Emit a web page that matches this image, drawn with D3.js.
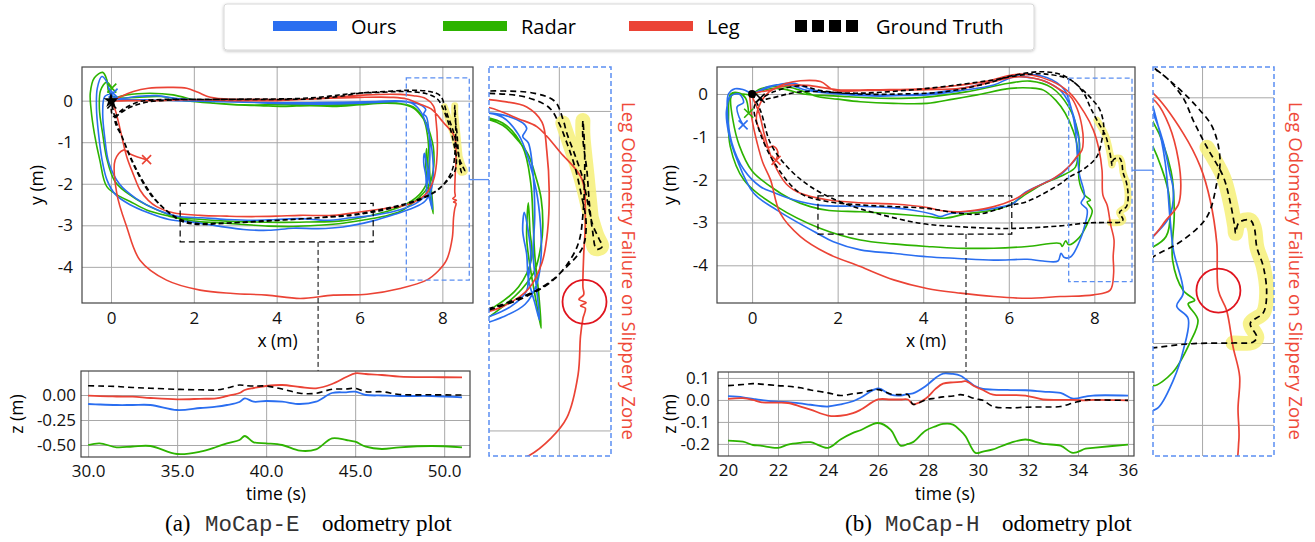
<!DOCTYPE html>
<html>
<head>
<meta charset="utf-8">
<script src="https://cdn.jsdelivr.net/npm/d3@7"></script>
<style>
  body { margin: 0; background: #fff; }
  svg { display: block; font-family: "Open Sans", sans-serif; }
  .grid line { stroke: #a8a8a8; stroke-width: 1; }
  .grid path { display: none; }
  .tick text { font-size: 17px; fill: #111; font-family: "Open Sans", sans-serif; }
</style>
</head>
<body>
<svg width="1315" height="542"></svg>
<script>
// ---------- data: MoCap-E (left) ----------
var gtE = [[0,0],[0.05,-0.38],[0.3,-0.2],[0.7,-0.02],[1.3,0.03],[2.2,0.03],[3.2,0.03],[4.2,0.03],[5.0,0.05],[5.5,0.1],[6.0,0.18],[6.6,0.22],[7.2,0.25],[7.7,0.22],[7.95,0.12],[8.05,-0.1],[8.1,-0.28],[8.2,-0.55],[8.3,-0.85],[8.36,-1.15],[8.42,-1.42],[8.5,-1.6],[8.54,-1.7],[8.47,-1.73],[8.42,-1.5],[8.38,-1.15],[8.35,-0.75],[8.3,-0.35],[8.3,-0.12],[8.32,-0.45],[8.32,-0.9],[8.3,-1.3],[8.26,-1.6],[8.18,-1.8],[7.95,-2.1],[7.6,-2.32],[7.1,-2.5],[6.5,-2.65],[5.8,-2.76],[5.0,-2.82],[4.2,-2.87],[3.4,-2.92],[2.6,-2.95],[2.0,-2.95],[1.6,-2.82],[1.25,-2.57],[0.95,-2.25],[0.7,-1.85],[0.48,-1.4],[0.28,-0.9],[0.1,-0.45],[0.35,-0.22],[0.8,-0.05],[1.5,0.02],[2.5,0.03],[3.5,0.04],[4.5,0.05],[5.2,0.1],[5.8,0.17],[6.5,0.2],[7.1,0.22],[7.6,0.17],[7.88,0.04],[8.0,-0.15],[8.1,-0.4],[8.2,-0.7],[8.28,-1.05],[8.34,-1.4],[8.3,-1.7],[8.1,-1.95],[7.8,-2.2],[7.3,-2.42],[6.7,-2.58],[6.0,-2.72],[5.2,-2.8],[4.4,-2.86],[3.6,-2.9],[2.8,-2.95],[2.2,-2.98],[1.75,-2.92],[1.4,-2.7],[1.05,-2.35],[0.75,-1.9],[0.5,-1.42],[0.3,-0.95],[0.12,-0.5],[0.02,-0.08]];
var oursE = [[0,0],[0.3,0.02],[0.9,0.02],[1.6,0.0],[2.4,-0.02],[3.2,-0.04],[4.0,-0.05],[4.8,-0.05],[5.6,-0.04],[6.4,-0.02],[7.0,-0.01],[7.3,-0.08],[7.5,-0.3],[7.62,-0.6],[7.72,-1.0],[7.77,-1.4],[7.78,-1.8],[7.73,-2.15],[7.58,-2.42],[7.3,-2.58],[6.9,-2.72],[6.3,-2.9],[5.6,-3.04],[5.0,-3.08],[4.4,-3.07],[3.8,-3.12],[3.2,-3.1],[2.6,-3.02],[2.0,-2.93],[1.4,-2.86],[0.9,-2.7],[0.45,-2.5],[0.1,-2.25],[-0.1,-1.9],[-0.22,-1.4],[-0.3,-0.8],[-0.35,-0.2],[-0.33,0.3],[-0.22,0.58],[-0.1,0.45],[0.0,0.15],[0.15,0.05],[0.6,0.1],[1.1,0.12],[1.6,0.05],[2.3,0.0],[3.0,-0.02],[3.8,-0.06],[4.6,-0.08],[5.4,-0.08],[6.2,-0.05],[6.9,-0.02],[7.3,-0.05],[7.55,-0.15],[7.6,-0.22],[7.55,-0.32],[7.62,-0.4],[7.68,-0.8],[7.7,-1.3],[7.68,-1.8],[7.72,-2.2],[7.76,-2.62],[7.7,-2.4],[7.62,-2.1],[7.6,-1.8],[7.55,-1.5],[7.57,-1.27],[7.61,-1.45],[7.65,-1.8],[7.62,-2.1],[7.6,-2.25],[7.4,-2.45],[7.0,-2.62],[6.4,-2.75],[5.8,-2.82],[5.2,-2.88],[4.6,-2.84],[4.0,-2.86],[3.4,-2.88],[2.8,-2.86],[2.2,-2.82],[1.6,-2.78],[1.1,-2.62],[0.6,-2.35],[0.2,-2.0],[-0.05,-1.5],[-0.15,-0.9],[-0.2,-0.3],[-0.15,0.1],[0.05,0.18]];
var radarE = [[0,0],[0.1,0.06],[0.38,0.14],[0.94,0.18],[1.5,0.14],[2.15,-0.02],[2.95,-0.1],[3.6,-0.12],[4.16,-0.14],[4.8,-0.12],[5.37,-0.14],[6.0,-0.1],[6.58,-0.06],[7.0,-0.08],[7.3,-0.18],[7.5,-0.38],[7.62,-0.55],[7.72,-0.85],[7.78,-1.1],[7.8,-1.45],[7.78,-1.67],[7.7,-2.0],[7.54,-2.23],[7.3,-2.45],[6.98,-2.67],[6.6,-2.78],[6.18,-2.86],[5.6,-2.95],[5.0,-3.0],[4.4,-3.03],[3.8,-3.02],[3.2,-2.98],[2.6,-2.94],[2.0,-2.9],[1.4,-2.78],[0.86,-2.63],[0.45,-2.42],[0.22,-2.31],[-0.1,-2.07],[-0.27,-1.43],[-0.4,-0.8],[-0.48,-0.22],[-0.5,0.18],[-0.4,0.55],[-0.2,0.68],[-0.1,0.5],[-0.05,0.2],[0.1,0.08],[0.6,0.08],[1.2,0.1],[1.8,0.0],[2.5,-0.06],[3.2,-0.1],[4.0,-0.1],[4.8,-0.1],[5.5,-0.1],[6.2,-0.05],[6.9,-0.06],[7.3,-0.15],[7.55,-0.45],[7.65,-0.9],[7.68,-1.4],[7.7,-1.8],[7.75,-2.3],[7.78,-2.72],[7.72,-2.4],[7.65,-2.0],[7.6,-1.6],[7.62,-1.15],[7.64,-1.5],[7.66,-1.85],[7.5,-2.2],[7.2,-2.45],[6.8,-2.62],[6.2,-2.78],[5.5,-2.9],[4.8,-2.92],[4.2,-2.93],[3.5,-2.92],[2.8,-2.9],[2.2,-2.86],[1.6,-2.8],[1.0,-2.58],[0.5,-2.3],[0.1,-1.95],[-0.1,-1.4],[-0.2,-0.8],[-0.28,-0.2],[-0.25,0.25],[-0.1,0.45],[0.02,0.3]];
var legE = [[0,0],[0.1,-0.22],[0.2,-0.6],[0.38,-1.35],[0.55,-1.8],[0.7,-2.15],[0.9,-2.4],[1.1,-2.55],[1.5,-2.7],[2.15,-2.76],[2.8,-2.78],[3.4,-2.79],[4.0,-2.78],[4.57,-2.76],[5.37,-2.76],[6.0,-2.68],[6.58,-2.6],[7.0,-2.54],[7.3,-2.45],[7.62,-2.23],[7.79,-1.9],[7.86,-1.5],[7.88,-1.0],[7.85,-0.5],[7.79,-0.14],[7.6,0.05],[7.3,0.12],[6.98,0.15],[6.18,0.14],[5.37,0.08],[4.57,0.03],[3.5,0.03],[2.95,0.03],[2.4,0.08],[2.1,0.2],[1.83,0.3],[1.43,0.32],[0.9,0.3],[0.54,0.22],[0.2,0.08],[0.05,0.0],[0.4,0.0],[1.0,0.0],[2.0,0.02],[3.0,0.0],[4.0,0.0],[5.0,0.05],[6.0,0.08],[6.8,0.08],[7.14,0.04],[7.5,-0.1],[7.73,-0.2],[8.02,-0.52],[8.29,-0.86],[8.33,-1.36],[8.31,-1.8],[8.3,-2.2],[8.31,-2.3],[8.25,-2.36],[8.34,-2.4],[8.27,-2.44],[8.33,-2.47],[8.3,-2.6],[8.27,-2.82],[8.24,-3.3],[8.1,-3.84],[7.9,-4.1],[7.62,-4.32],[6.98,-4.52],[6.18,-4.66],[5.37,-4.68],[4.57,-4.76],[3.76,-4.68],[2.95,-4.64],[2.15,-4.56],[1.34,-4.32],[0.7,-3.84],[0.38,-3.04],[0.14,-2.23],[0.1,-1.43],[0.3,-1.19],[0.5,-1.3],[0.86,-1.42]];
var slipE = [[8.05,-0.15],[8.15,-0.45],[8.28,-0.85],[8.38,-1.25],[8.47,-1.55],[8.53,-1.7],[8.45,-1.72],[8.4,-1.3],[8.35,-0.8],[8.3,-0.3],[8.3,-0.12]];

var tE = [30.0,30.65,31.6,32.5,33.5,35.0,36.3,37.2,37.8,38.5,38.8,39.3,40.0,40.9,41.9,42.8,43.7,44.5,45.0,45.6,46.5,47.5,49.3,51.0];
var zGtE    = [0.093,0.09,0.085,0.075,0.068,0.057,0.052,0.05,0.07,0.1,0.095,0.09,0.09,0.06,0.017,0.017,0.057,0.06,0.067,0.033,0.033,0.005,0.002,0.0];
var zOursE  = [-0.09,-0.095,-0.1,-0.1,-0.1,-0.15,-0.13,-0.117,-0.1,-0.07,-0.033,-0.067,-0.06,-0.067,-0.09,-0.067,0.02,0.027,0.033,0.0,-0.005,-0.01,-0.01,-0.023];
var zRadarE = [-0.5,-0.483,-0.523,-0.515,-0.51,-0.59,-0.567,-0.52,-0.483,-0.45,-0.41,-0.473,-0.483,-0.5,-0.557,-0.543,-0.433,-0.45,-0.467,-0.517,-0.54,-0.523,-0.51,-0.523];
var zLegE   = [-0.007,-0.012,-0.015,-0.017,-0.03,-0.043,-0.038,-0.033,-0.01,0.02,0.05,0.07,0.09,0.1,0.08,0.067,0.11,0.18,0.217,0.21,0.2,0.183,0.178,0.177];

// ---------- data: MoCap-H (right) ----------
var gtH = [[0,0],[0.2,-0.4],[0.43,-1.15],[0.82,-1.7],[1.36,-2.16],[2.14,-2.55],[2.92,-2.79],[3.93,-3.02],[4.87,-3.1],[6.04,-3.14],[7.2,-3.08],[7.85,-3.01],[8.38,-3.0],[8.62,-2.99],[8.67,-2.93],[8.59,-2.76],[8.75,-2.63],[8.79,-2.39],[8.75,-2.07],[8.67,-1.83],[8.64,-1.6],[8.59,-1.5],[8.45,-1.53],[8.41,-1.66],[8.4,-1.58],[8.34,-1.26],[8.26,-0.97],[8.06,-0.61],[7.9,-0.3],[7.75,0.02],[7.44,0.33],[6.81,0.47],[6.27,0.44],[5.65,0.33],[4.09,0.13],[2.53,0.02],[1.13,0.05],[0.43,-0.1],[0.19,-0.14],[0.5,0.05],[1.13,0.19],[1.6,0.08],[2.5,0.0],[3.5,0.0],[4.5,0.05],[5.5,0.25],[6.04,0.42],[6.81,0.52],[7.3,0.42],[7.7,0.12],[7.94,-0.12],[8.13,-0.37],[8.22,-0.76],[8.18,-1.05],[8.06,-1.46],[7.77,-1.74],[7.4,-1.95],[7.2,-2.1],[6.43,-2.51],[6.04,-2.6],[5.33,-2.8],[4.87,-2.79],[4.09,-2.67],[3.31,-2.63],[2.53,-2.59],[1.75,-2.51],[1.13,-2.32],[0.58,-1.7],[0.19,-0.92],[0.05,-0.3],[0.19,-0.1]];
var oursH = [[0,0],[0.3,0.12],[0.58,0.21],[0.97,0.25],[1.36,0.11],[1.9,0.02],[2.53,-0.02],[3.3,-0.03],[4.09,-0.02],[4.9,0.08],[5.65,0.21],[6.11,0.4],[6.5,0.38],[6.81,0.31],[7.2,0.09],[7.4,-0.2],[7.52,-0.53],[7.6,-0.9],[7.65,-1.15],[7.6,-1.46],[7.4,-1.7],[7.2,-1.89],[6.81,-2.09],[6.35,-2.32],[6.11,-2.55],[5.65,-2.67],[5.0,-2.75],[4.6,-2.8],[4.4,-2.86],[4.2,-2.8],[3.8,-2.72],[3.31,-2.66],[2.53,-2.62],[1.6,-2.6],[0.97,-2.47],[0.5,-2.3],[0.19,-2.16],[-0.19,-1.77],[-0.47,-1.15],[-0.58,-0.37],[-0.55,0.0],[-0.4,0.12],[-0.2,0.1],[0.0,0.02],[0.4,0.18],[0.8,0.22],[1.3,0.08],[2.0,0.0],[3.0,-0.05],[4.0,0.0],[5.0,0.15],[5.8,0.35],[6.2,0.45],[6.9,0.38],[7.3,0.1],[7.45,-0.3],[7.55,-0.8],[7.61,-1.5],[7.65,-1.87],[7.77,-2.39],[7.69,-2.55],[7.83,-2.7],[7.77,-3.09],[7.65,-3.45],[7.45,-3.8],[7.3,-3.82],[7.22,-3.72],[7.15,-3.9],[6.8,-3.9],[6.43,-3.86],[5.65,-3.88],[4.8,-3.84],[4.09,-3.8],[3.3,-3.72],[2.53,-3.64],[1.9,-3.45],[1.52,-3.25],[0.58,-2.71],[0.04,-2.32],[-0.35,-1.54],[-0.55,-0.9],[-0.6,-0.4],[-0.5,-0.05],[-0.3,0.0],[-0.2,-0.2],[-0.35,-0.3],[-0.3,-0.55],[-0.21,-0.72]];
var radarH = [[0,0],[0.2,0.12],[0.43,0.17],[0.9,0.15],[1.3,0.02],[1.52,-0.06],[2.0,-0.12],[2.53,-0.18],[3.3,-0.22],[4.09,-0.22],[4.7,-0.12],[5.26,-0.02],[6.04,0.13],[6.5,0.14],[6.81,0.09],[7.1,-0.15],[7.32,-0.45],[7.5,-0.85],[7.6,-1.23],[7.56,-1.7],[7.3,-1.88],[6.8,-2.1],[6.43,-2.32],[6.0,-2.6],[5.65,-2.71],[5.0,-2.8],[4.5,-2.9],[4.09,-2.86],[3.3,-2.8],[2.53,-2.75],[1.8,-2.72],[1.36,-2.63],[0.9,-2.45],[0.43,-2.16],[0.0,-1.8],[-0.3,-1.2],[-0.45,-0.6],[-0.5,-0.1],[-0.45,0.0],[-0.2,0.0],[0.0,-0.02],[0.3,0.1],[0.7,0.12],[1.2,0.0],[2.0,-0.05],[3.0,-0.1],[4.0,-0.08],[5.0,0.05],[6.0,0.25],[6.5,0.3],[7.0,0.15],[7.4,-0.3],[7.62,-0.9],[7.66,-1.4],[7.64,-1.99],[7.77,-2.36],[7.91,-2.48],[7.83,-2.52],[7.95,-2.72],[7.85,-3.0],[7.64,-3.36],[7.4,-3.52],[7.33,-3.43],[7.25,-3.56],[7.2,-3.49],[6.43,-3.56],[5.65,-3.6],[4.8,-3.6],[4.09,-3.56],[3.3,-3.5],[2.53,-3.41],[1.6,-3.14],[0.58,-2.63],[-0.19,-2.01],[-0.51,-1.23],[-0.55,-0.5],[-0.5,0.0],[-0.3,0.02],[-0.15,-0.1],[-0.08,-0.45]];
var legH = [[0,0],[0.2,0.05],[0.43,0.09],[0.8,0.25],[1.13,0.31],[1.6,0.29],[1.91,0.09],[2.6,0.08],[3.31,0.09],[4.1,0.1],[4.87,0.13],[5.65,0.29],[6.19,0.4],[6.81,0.31],[7.2,0.1],[7.44,-0.06],[7.6,-0.35],[7.71,-0.76],[7.74,-1.1],[7.71,-1.31],[7.56,-1.5],[7.4,-1.7],[7.05,-1.97],[6.58,-2.2],[6.11,-2.47],[5.65,-2.63],[4.87,-2.75],[4.4,-2.72],[4.09,-2.65],[3.31,-2.57],[2.53,-2.54],[1.75,-2.47],[1.13,-2.32],[0.8,-2.1],[0.5,-1.6],[0.3,-1.0],[0.15,-0.4],[-0.05,0.0],[-0.04,-0.22],[0.0,-0.6],[0.12,-1.15],[0.25,-1.6],[0.43,-2.0],[0.66,-2.79],[1.13,-3.33],[1.75,-3.72],[2.53,-4.03],[3.31,-4.34],[4.09,-4.54],[4.87,-4.65],[5.65,-4.73],[6.43,-4.77],[7.2,-4.73],[7.98,-4.69],[8.37,-4.58],[8.45,-4.19],[8.44,-3.8],[8.46,-3.41],[8.38,-3.05],[8.3,-2.6],[8.2,-2.36],[8.18,-1.78],[8.1,-1.26],[7.98,-0.85],[7.77,-0.44],[7.4,0.05],[7.0,0.3],[6.5,0.45],[6.1,0.45],[5.5,0.3],[4.8,0.2],[4.0,0.12],[3.0,0.1],[2.0,0.1],[1.3,0.2],[0.8,0.2],[0.4,0.05],[0.2,-0.2],[0.1,-0.6],[0.25,-1.0],[0.35,-1.25],[0.5,-1.22],[0.6,-1.35],[0.56,-1.55]];
var slipH = [[8.06,-0.61],[8.26,-0.97],[8.34,-1.26],[8.4,-1.58],[8.41,-1.66],[8.45,-1.53],[8.59,-1.5],[8.64,-1.6],[8.67,-1.83],[8.75,-2.07],[8.79,-2.39],[8.75,-2.63],[8.59,-2.76],[8.67,-2.93],[8.62,-2.99],[8.38,-3.0]];

var tH = [20.0,20.6,21.0,21.3,22.0,22.4,22.9,23.3,24.0,24.5,25.0,25.3,26.0,26.5,26.9,27.2,27.4,27.9,28.3,28.6,29.0,29.3,29.5,29.9,30.2,30.6,31.3,31.9,32.6,33.3,33.8,34.3,34.6,36.0];
var zGtH    = [0.065,0.07,0.074,0.072,0.065,0.062,0.055,0.045,0.032,0.02,0.028,0.032,0.047,0.027,0.024,0.024,-0.02,0.0,0.008,0.014,0.018,0.024,0.02,0.005,-0.002,-0.03,-0.036,-0.033,-0.032,-0.03,-0.014,0.0,0.0,-0.002];
var zOursH  = [0.017,0.012,0.005,0.0,-0.008,-0.01,-0.016,-0.022,-0.03,-0.02,-0.006,0.01,0.052,0.024,0.02,0.027,0.03,0.062,0.1,0.12,0.118,0.11,0.095,0.062,0.05,0.047,0.045,0.044,0.038,0.032,0.006,0.015,0.02,0.02];
var zRadarH = [-0.185,-0.19,-0.205,-0.208,-0.218,-0.203,-0.195,-0.192,-0.218,-0.18,-0.15,-0.138,-0.105,-0.135,-0.208,-0.2,-0.192,-0.14,-0.12,-0.109,-0.112,-0.14,-0.165,-0.241,-0.235,-0.225,-0.195,-0.18,-0.2,-0.208,-0.241,-0.222,-0.218,-0.203];
var zLegH   = [0.005,0.008,0.0,-0.01,-0.012,-0.014,-0.03,-0.044,-0.071,-0.072,-0.06,-0.045,0.002,0.002,0.002,0.002,-0.02,0.005,0.05,0.074,0.08,0.082,0.085,0.06,0.045,0.024,0.022,0.02,0.002,0.0,0.0,-0.002,0.0,-0.002];

// ---------- axes, boxes, labels ----------
var xTicksXY = [0, 2, 4, 6, 8];
var yTicksXY = [0, -1, -2, -3, -4];
var zTicksE = [0, -0.25, -0.5], tTicksE = [30, 35, 40, 45, 50];
var zTicksH = [0.1, 0, -0.1, -0.2], tTicksH = [20, 22, 24, 26, 28, 30, 32, 34, 36];
var insetXE = [7.13, 8.65], insetYE = [-4.32, 0.55];
var insetXH = [7.4, 8.88], insetYH = [-4.38, 0.37];
var zoomXE = [1.67, 6.33], zoomYE = [-3.4, -2.47];
var zoomXH = [1.54, 6.07], zoomYH = [-3.27, -2.38];
var linkYE = -1.9, linkYH = -1.78, cutX = 5;
var legendNames = ['Ours', 'Radar', 'Leg', 'Ground Truth'];
var failText = 'Leg Odometry Failure on Slippery Zone';

var C = {ours: '#2a6ef0', radar: '#2db300', leg: '#eb4335', gt: '#000', box: '#5b8ff2', hi: '#f6f078'};

var svg = d3.select('svg');
var defs = svg.append('defs');
defs.append('filter').attr('id', 'shadow').attr('x', '-5%').attr('y', '-30%').attr('width', '110%').attr('height', '160%')
  .append('feDropShadow').attr('dx', 0).attr('dy', 1).attr('stdDeviation', 1.5).attr('flood-opacity', 0.25);

var clipN = 0;
function clip(x0, y0, w, h) {
  var id = 'c' + (clipN++);
  defs.append('clipPath').attr('id', id).append('rect').attr('x', x0).attr('y', y0).attr('width', w).attr('height', h);
  return 'url(#' + id + ')';
}

function drawTraj(o) {
  var xs = d3.scaleLinear().domain(o.xd).range([o.x0, o.x1]),
      ys = d3.scaleLinear().domain(o.yd).range([o.y1, o.y0]);
  var g = svg.append('g');

  // grid + ticks
  var ax = d3.axisBottom(xs).tickValues(o.xt).tickSize(-(o.y1 - o.y0)).tickPadding(9).tickFormat(d => d);
  var ay = d3.axisLeft(ys).tickValues(o.yt).tickSize(-(o.x1 - o.x0)).tickPadding(9).tickFormat(d => d);
  var gx = g.append('g').attr('class', 'grid').attr('transform', 'translate(0,' + o.y1 + ')').call(ax);
  var gy = g.append('g').attr('class', 'grid').attr('transform', 'translate(' + o.x0 + ',0)').call(ay);
  if (!o.labels) { gx.selectAll('text').remove(); gy.selectAll('text').remove(); }

  var body = g.append('g').attr('clip-path', clip(o.x0, o.y0, o.x1 - o.x0, o.y1 - o.y0));
  var line = d3.line().x(d => xs(d[0])).y(d => ys(d[1])).curve(d3.curveCatmullRom.alpha(0.5));

  body.append('path').attr('d', line(o.slip)).attr('fill', 'none').attr('stroke', C.hi)
    .attr('stroke-width', o.hiW).attr('stroke-linecap', 'round').attr('stroke-linejoin', 'round').attr('opacity', 0.85);
  [['radar', o.radar], ['ours', o.ours], ['leg', o.leg]].forEach(function(s) {
    body.append('path').attr('d', line(s[1])).attr('fill', 'none').attr('stroke', C[s[0]])
      .attr('stroke-width', o.lw).attr('stroke-linejoin', 'round');
  });
  body.append('path').attr('d', line(o.gt)).attr('fill', 'none').attr('stroke', '#000')
    .attr('stroke-width', o.lw).attr('stroke-dasharray', o.dash);

  // end markers (x) and start marker
  [['radar', o.radar], ['ours', o.ours], ['leg', o.leg], ['gt', o.gt]].forEach(function(s) {
    var p = s[1][s[1].length - 1], r = 4.5;
    body.append('path').attr('transform', 'translate(' + xs(p[0]) + ',' + ys(p[1]) + ')')
      .attr('d', 'M' + -r + ',' + -r + 'L' + r + ',' + r + 'M' + -r + ',' + r + 'L' + r + ',' + -r)
      .attr('stroke', C[s[0]]).attr('stroke-width', 1.6);
  });
  var st = o.gt[0];
  if (o.star) {
    body.append('path').attr('transform', 'translate(' + xs(st[0]) + ',' + ys(st[1]) + ')')
      .attr('d', d3.symbol().type(d3.symbolStar).size(70)()).attr('fill', '#000');
  } else {
    body.append('circle').attr('cx', xs(st[0])).attr('cy', ys(st[1])).attr('r', 4).attr('fill', '#000');
  }

  if (o.inset) {
    g.append('rect').attr('x', o.x0).attr('y', o.y0).attr('width', o.x1 - o.x0).attr('height', o.y1 - o.y0)
      .attr('fill', 'none').attr('stroke', C.box).attr('stroke-width', 1.5).attr('stroke-dasharray', '5,3');
  } else {
    g.append('rect').attr('x', o.x0).attr('y', o.y0).attr('width', o.x1 - o.x0).attr('height', o.y1 - o.y0)
      .attr('fill', 'none').attr('stroke', '#444').attr('stroke-width', 1.2);
  }
  return {xs: xs, ys: ys, g: g};
}

function drawZ(o) {
  var xs = d3.scaleLinear().domain(o.xd).range([o.x0, o.x1]),
      ys = d3.scaleLinear().domain(o.yd).range([o.y1, o.y0]);
  var g = svg.append('g');
  g.append('g').attr('class', 'grid').attr('transform', 'translate(0,' + o.y1 + ')')
    .call(d3.axisBottom(xs).tickValues(o.xt).tickSize(-(o.y1 - o.y0)).tickPadding(8).tickFormat(d => d.toFixed(o.xf)));
  g.append('g').attr('class', 'grid').attr('transform', 'translate(' + o.x0 + ',0)')
    .call(d3.axisLeft(ys).tickValues(o.yt).tickSize(-(o.x1 - o.x0)).tickPadding(o.yp).tickFormat(d => d.toFixed(o.yf)));
  var body = g.append('g').attr('clip-path', clip(o.x0, o.y0, o.x1 - o.x0, o.y1 - o.y0));
  var line = d3.line().x((d, i) => xs(o.t[i])).y(d => ys(d)).curve(d3.curveCatmullRom.alpha(0.5));
  [['radar', o.radar], ['ours', o.ours], ['leg', o.leg]].forEach(function(s) {
    body.append('path').attr('d', line(s[1])).attr('fill', 'none').attr('stroke', C[s[0]]).attr('stroke-width', 1.8);
  });
  body.append('path').attr('d', line(o.gt)).attr('fill', 'none').attr('stroke', '#000')
    .attr('stroke-width', 1.6).attr('stroke-dasharray', '6,4');
  g.append('rect').attr('x', o.x0).attr('y', o.y0).attr('width', o.x1 - o.x0).attr('height', o.y1 - o.y0)
    .attr('fill', 'none').attr('stroke', '#444').attr('stroke-width', 1.2);
  return {xs: xs, ys: ys};
}

function axisLabels(cx, xy, lx, ly, xt, yt) {
  svg.append('text').attr('x', cx).attr('y', xy).attr('text-anchor', 'middle').attr('font-size', 17.5).text(xt);
  svg.append('text').attr('transform', 'translate(' + lx + ',' + ly + ') rotate(-90)')
    .attr('text-anchor', 'middle').attr('dy', '0.35em').attr('font-size', 17.5).text(yt);
}

function side(o) {
  var m = drawTraj({x0: o.mx[0], x1: o.mx[1], y0: 67, y1: 303, xd: o.mxd, yd: o.myd, xt: xTicksXY, yt: yTicksXY,
    labels: true, lw: 1.6, dash: '5,3', hiW: 7, gt: o.gt, ours: o.ours, radar: o.radar, leg: o.leg, slip: o.slip, star: o.star});
  axisLabels((o.mx[0] + o.mx[1]) / 2, 347, o.ylx, 185, 'x (m)', 'y (m)');

  drawTraj({x0: o.ix[0], x1: o.ix[1], y0: 67, y1: 456, xd: o.inX, yd: o.inY, xt: [8], yt: yTicksXY,
    labels: false, lw: 1.7, dash: '6,4', hiW: 15, gt: o.gt, ours: o.ours, radar: o.radar, leg: o.leg, slip: o.slip,
    star: o.star, inset: true});

  // zoom boxes and connectors in the main plot
  var xs = m.xs, ys = m.ys;
  svg.append('rect').attr('x', xs(o.inX[0])).attr('y', ys(o.inY[1])).attr('width', xs(o.inX[1]) - xs(o.inX[0]))
    .attr('height', ys(o.inY[0]) - ys(o.inY[1])).attr('fill', 'none').attr('stroke', C.box)
    .attr('stroke-width', 1.3).attr('stroke-dasharray', '5,3');
  svg.append('line').attr('x1', xs(o.inX[1])).attr('x2', o.ix[0]).attr('y1', ys(o.linkY)).attr('y2', ys(o.linkY))
    .attr('stroke', C.box).attr('stroke-width', 1.3);
  svg.append('rect').attr('x', xs(o.zx[0])).attr('y', ys(o.zy[1])).attr('width', xs(o.zx[1]) - xs(o.zx[0]))
    .attr('height', ys(o.zy[0]) - ys(o.zy[1])).attr('fill', 'none').attr('stroke', '#000')
    .attr('stroke-width', 1.2).attr('stroke-dasharray', '6,4');
  svg.append('line').attr('x1', xs(cutX)).attr('x2', xs(cutX)).attr('y1', ys(o.zy[0])).attr('y2', o.zTop)
    .attr('stroke', '#000').attr('stroke-width', 1).attr('stroke-dasharray', '5,3');

  // circle on leg failure, rotated note
  svg.append('circle').attr('cx', o.circ[0]).attr('cy', o.circ[1]).attr('r', 22)
    .attr('fill', 'none').attr('stroke', '#e0141e').attr('stroke-width', 1.8);
  svg.append('text').attr('transform', 'translate(' + o.noteX + ',271) rotate(90)')
    .attr('text-anchor', 'middle').attr('dy', '0.35em').attr('font-size', 17.5).attr('fill', '#ef4a3a')
    .attr('textLength', 338).attr('lengthAdjust', 'spacingAndGlyphs').text(failText);
}

// ---------- left: MoCap-E ----------
var legFailE = [8.32, -2.39], legFailH = [8.2, -2.36];
function insetPx(p, ix, inX, inY) {
  var xs = d3.scaleLinear().domain(inX).range(ix), ys = d3.scaleLinear().domain(inY).range([456, 67]);
  return [xs(p[0]), ys(p[1])];
}
side({mx: [82, 473], mxd: [-0.70, 8.74], myd: [-4.87, 0.81], ix: [489, 611], inX: insetXE, inY: insetYE,
  gt: gtE, ours: oursE, radar: radarE, leg: legE, slip: slipE, star: true, ylx: 37,
  zx: zoomXE, zy: zoomYE, linkY: linkYE, zTop: 371, circ: insetPx(legFailE, [489, 611], insetXE, insetYE), noteX: 628});
drawZ({x0: 81, x1: 470, y0: 371, y1: 457, xd: [29.6, 51.45], yd: [-0.62, 0.24], xt: tTicksE, yt: zTicksE, xf: 1, yf: 2, yp: 5,
  t: tE, gt: zGtE, ours: zOursE, radar: zRadarE, leg: zLegE});
axisLabels(276, 500, 17, 414, 'time (s)', 'z (m)');

// ---------- right: MoCap-H ----------
side({mx: [717, 1135], mxd: [-0.82, 8.95], myd: [-4.88, 0.63], ix: [1153, 1274], inX: insetXH, inY: insetYH,
  gt: gtH, ours: oursH, radar: radarH, leg: legH, slip: slipH, star: false, ylx: 670,
  zx: zoomXH, zy: zoomYH, linkY: linkYH, zTop: 372, circ: insetPx(legFailH, [1153, 1274], insetXH, insetYH), noteX: 1295});
drawZ({x0: 718, x1: 1134, y0: 372, y1: 456, xd: [19.6, 36.24], yd: [-0.255, 0.127], xt: tTicksH, yt: zTicksH, xf: 0, yf: 1, yp: 8,
  t: tH, gt: zGtH, ours: zOursH, radar: zRadarH, leg: zLegH});
axisLabels(945, 500, 670, 414, 'time (s)', 'z (m)');

// ---------- captions ----------
function caption(x, tag, name) {
  var t = svg.append('text').attr('y', 531).attr('font-family', '"Liberation Serif", serif').attr('font-size', 23);
  t.append('tspan').attr('x', x).text(tag);
  t.append('tspan').attr('x', x + 40).attr('font-family', '"Liberation Mono", monospace').attr('font-size', 22.5)
    .attr('fill', '#333').text(name);
  t.append('tspan').attr('x', x + 157).text('odometry plot');
}
caption(165, '(a)', 'MoCap-E');
caption(845, '(b)', 'MoCap-H');

// ---------- legend ----------
var lg = svg.append('g');
lg.append('rect').attr('x', 224).attr('y', 4).attr('width', 810).attr('height', 46).attr('rx', 3)
  .attr('fill', '#fff').attr('stroke', '#d8d8d8').attr('filter', 'url(#shadow)');
var lgX = [273, 443, 629, 795], lgCol = [C.ours, C.radar, C.leg];
legendNames.forEach(function(n, i) {
  if (i < 3) {
    lg.append('rect').attr('x', lgX[i]).attr('y', 21).attr('width', 64).attr('height', 10).attr('fill', lgCol[i]);
  } else {
    d3.range(4).forEach(function(k) {
      lg.append('rect').attr('x', lgX[i] + k * 17).attr('y', 20).attr('width', 12).attr('height', 12).attr('fill', '#000');
    });
  }
  lg.append('text').attr('x', lgX[i] + (i < 3 ? 78 : 81)).attr('y', 34).attr('font-size', 20).text(n);
});
</script>
</body>
</html>
